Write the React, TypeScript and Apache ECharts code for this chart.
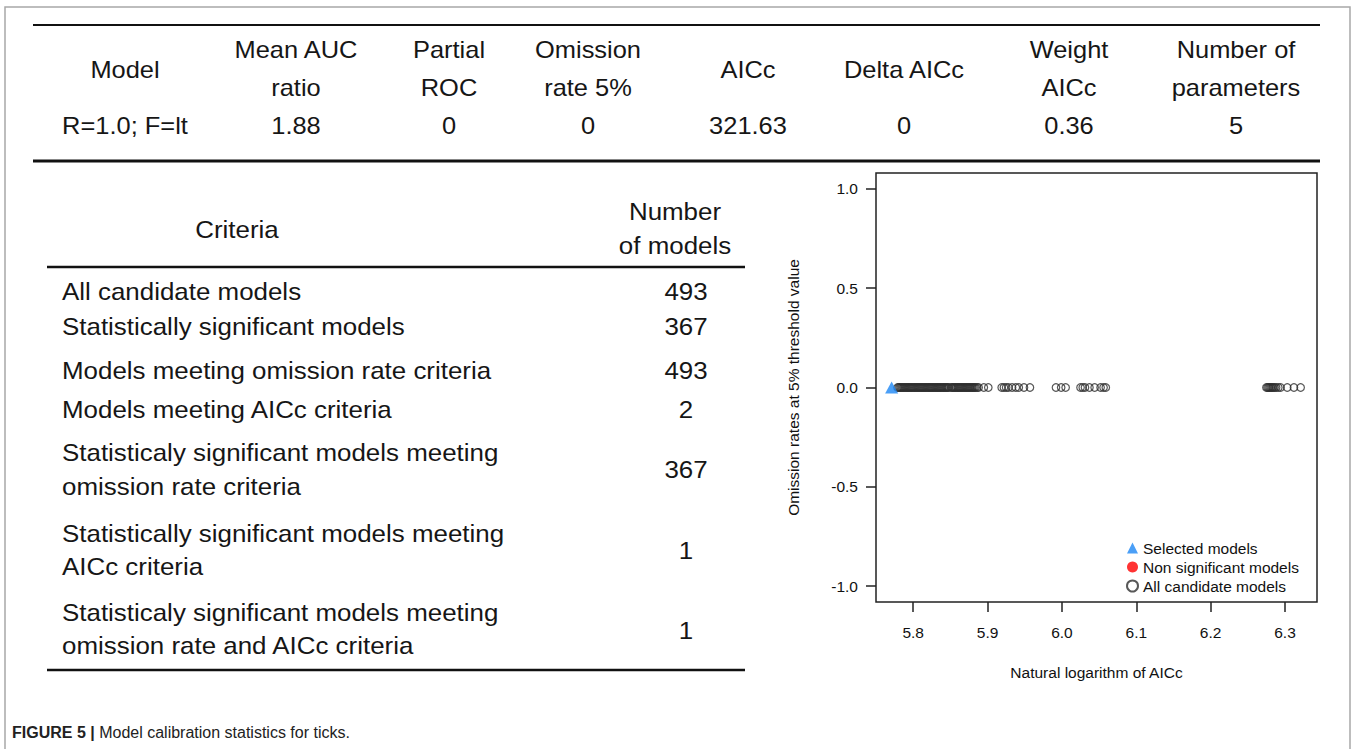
import React, { useEffect, useRef } from "react";
import * as echarts from "echarts";

// ---------- data ----------
const summaryHeaders: string[][] = [
  ["Model"],
  ["Mean AUC", "ratio"],
  ["Partial", "ROC"],
  ["Omission", "rate 5%"],
  ["AICc"],
  ["Delta AICc"],
  ["Weight", "AICc"],
  ["Number of", "parameters"],
];
const summaryValues: string[] = ["R=1.0; F=lt", "1.88", "0", "0", "321.63", "0", "0.36", "5"];

const criteriaHeader: string[] = ["Criteria"];
const countHeader: string[] = ["Number", "of models"];
const criteriaLabels: string[][] = [
  ["All candidate models"],
  ["Statistically significant models"],
  ["Models meeting omission rate criteria"],
  ["Models meeting AICc criteria"],
  ["Statisticaly significant models meeting", "omission rate criteria"],
  ["Statistically significant models meeting", "AICc criteria"],
  ["Statisticaly significant models meeting", "omission rate and AICc criteria"],
];
const criteriaCounts: number[] = [493, 367, 493, 2, 367, 1, 1];

const xTicks: number[] = [5.8, 5.9, 6.0, 6.1, 6.2, 6.3];
const yTicks: number[] = [-1.0, -0.5, 0.0, 0.5, 1.0];

// [natural log of AICc, omission rate at 5%]
const selectedModels: number[][] = [[5.771, 0]];
const nonSignificantModels: number[][] = [];
const candidateModels: number[][] = [
  [5.779, 0], [5.7805, 0], [5.782, 0], [5.7835, 0], [5.785, 0], [5.7865, 0], [5.788, 0], [5.7895, 0],
  [5.791, 0], [5.7925, 0], [5.794, 0], [5.7955, 0], [5.797, 0], [5.7985, 0], [5.800, 0], [5.8015, 0],
  [5.803, 0], [5.8045, 0], [5.806, 0], [5.8075, 0], [5.809, 0], [5.8105, 0], [5.812, 0], [5.8135, 0],
  [5.815, 0], [5.8165, 0], [5.818, 0], [5.8195, 0], [5.821, 0], [5.8225, 0], [5.824, 0], [5.8255, 0],
  [5.827, 0], [5.8285, 0], [5.830, 0], [5.8315, 0], [5.833, 0], [5.8345, 0], [5.836, 0], [5.8375, 0],
  [5.839, 0], [5.8405, 0], [5.842, 0], [5.8435, 0], [5.845, 0], [5.8465, 0], [5.848, 0],
  [5.851, 0], [5.8525, 0], [5.854, 0], [5.8555, 0], [5.857, 0], [5.8585, 0], [5.860, 0], [5.8615, 0],
  [5.863, 0], [5.8645, 0], [5.866, 0], [5.8675, 0], [5.869, 0], [5.8705, 0], [5.872, 0], [5.8735, 0],
  [5.875, 0], [5.8765, 0], [5.878, 0], [5.8795, 0], [5.881, 0], [5.8825, 0], [5.884, 0], [5.886, 0],
  [5.888, 0], [5.895, 0], [5.901, 0],
  [5.919, 0], [5.922, 0], [5.925, 0], [5.928, 0], [5.933, 0], [5.938, 0], [5.942, 0], [5.949, 0], [5.957, 0],
  [5.992, 0], [5.999, 0], [6.005, 0],
  [6.025, 0], [6.028, 0], [6.031, 0], [6.037, 0], [6.044, 0], [6.052, 0], [6.056, 0], [6.059, 0],
  [6.275, 0], [6.2765, 0], [6.278, 0], [6.2795, 0], [6.281, 0], [6.2825, 0], [6.284, 0], [6.286, 0],
  [6.288, 0], [6.291, 0], [6.294, 0], [6.303, 0], [6.312, 0], [6.321, 0],
];

// ---------- layout ----------
const FONT = '"Liberation Sans", Arial, Helvetica, sans-serif';
const INK = "#161616";
const summaryColX = [125, 296, 449, 588, 748, 904, 1069, 1236];
const tableFont = 24;

function textEl(text: string, x: number, y: number, align: string, size = tableFont, sx = 1) {
  return {
    type: "text",
    silent: true,
    x,
    y,
    scaleX: sx,
    style: {
      text,
      x: 0,
      y: 0,
      fill: INK,
      fontSize: size,
      fontFamily: FONT,
      textAlign: align,
      textVerticalAlign: "middle",
    },
  };
}

function lineEl(x1: number, y1: number, x2: number, y2: number, w: number, color = "#111") {
  return {
    type: "line",
    silent: true,
    shape: { x1, y1, x2, y2 },
    style: { stroke: color, lineWidth: w },
  };
}

function buildGraphics() {
  const g: any[] = [];
  // outer frame
  g.push({
    type: "rect",
    silent: true,
    shape: { x: 5, y: 7, width: 1345, height: 770 },
    style: { fill: "none", stroke: "#a8a8a8", lineWidth: 1.5 },
  });
  // summary table
  const topSX = 1.06;
  g.push(lineEl(33, 25, 1320, 25, 2));
  g.push(lineEl(33, 161, 1320, 161, 3));
  summaryHeaders.forEach((lines, i) => {
    if (lines.length === 1) {
      g.push(textEl(lines[0], summaryColX[i], 70, "center", tableFont, topSX));
    } else {
      g.push(textEl(lines[0], summaryColX[i], 50, "center", tableFont, topSX));
      g.push(textEl(lines[1], summaryColX[i], 88, "center", tableFont, topSX));
    }
  });
  summaryValues.forEach((v, i) => g.push(textEl(v, summaryColX[i], 126, "center", tableFont, topSX)));

  // criteria table
  const critSX = 1.08;
  g.push(textEl(criteriaHeader[0], 237, 229, "center", tableFont, critSX));
  g.push(textEl(countHeader[0], 675, 211, "center", tableFont, critSX));
  g.push(textEl(countHeader[1], 675, 245, "center", tableFont, critSX));
  g.push(lineEl(47, 267, 745, 267, 2.5));
  g.push(lineEl(47, 670, 745, 670, 2.5));
  const rowLineY: number[][] = [[291], [326], [370], [409], [452, 486], [533, 566], [612, 645]];
  const rowValueY: number[] = [291, 326, 370, 409, 469, 550, 630];
  criteriaLabels.forEach((lines, i) => {
    lines.forEach((l, j) => g.push(textEl(l, 62, rowLineY[i][j], "left", tableFont, critSX)));
    g.push(textEl(String(criteriaCounts[i]), 686, rowValueY[i], "center", tableFont, critSX));
  });

  // caption
  g.push({
    type: "text",
    silent: true,
    style: {
      text: "{b|FIGURE 5 |} Model calibration statistics for ticks.",
      x: 12,
      y: 732,
      fill: "#222",
      fontSize: 16,
      fontFamily: FONT,
      textAlign: "left",
      textVerticalAlign: "middle",
      rich: { b: { fontWeight: "bold", fontSize: 16, fontFamily: FONT, fill: "#222" } },
    },
  });
  return g;
}

export default function App() {
  const ref = useRef<HTMLDivElement>(null);
  useEffect(() => {
    if (!ref.current) return;
    const chart = echarts.init(ref.current, undefined, { renderer: "svg" });
    const axisText = { color: "#111111", fontSize: 15.5, fontFamily: FONT };
    chart.setOption({
      animation: false,
      backgroundColor: "#ffffff",
      graphic: buildGraphics(),
      grid: {
        left: 876,
        top: 173,
        width: 441,
        height: 429,
        show: true,
        borderColor: "#222",
        borderWidth: 1.5,
        backgroundColor: "transparent",
        containLabel: false,
      },
      xAxis: {
        type: "value",
        min: 5.75,
        max: 6.343,
        splitLine: { show: false },
        axisLine: { show: false, onZero: false },
        axisTick: {
          show: true,
          inside: false,
          length: 10,
          customValues: xTicks,
          lineStyle: { color: "#222", width: 1.5 },
        },
        axisLabel: {
          customValues: xTicks,
          formatter: (v: number) => v.toFixed(1),
          margin: 22,
          ...axisText,
        },
        name: "Natural logarithm of AICc",
        nameLocation: "middle",
        nameGap: 62,
        nameTextStyle: axisText,
      },
      yAxis: {
        type: "value",
        min: -1.08,
        max: 1.08,
        splitLine: { show: false },
        axisLine: { show: false, onZero: false },
        axisTick: {
          show: true,
          inside: false,
          length: 10,
          customValues: yTicks,
          lineStyle: { color: "#222", width: 1.5 },
        },
        axisLabel: {
          customValues: yTicks,
          formatter: (v: number) => v.toFixed(1),
          margin: 18,
          ...axisText,
        },
        name: "Omission rates at 5% threshold value",
        nameLocation: "middle",
        nameGap: 75,
        nameTextStyle: axisText,
      },
      legend: {
        data: [
          { name: "Selected models", icon: "triangle" },
          { name: "Non significant models", icon: "circle" },
          { name: "All candidate models", icon: "circle" },
        ],
        orient: "vertical",
        left: 1121,
        top: 535,
        itemWidth: 11,
        itemHeight: 11,
        itemGap: 3,
        selectedMode: false,
        textStyle: axisText,
      },
      series: [
        {
          name: "All candidate models",
          type: "scatter",
          data: candidateModels,
          symbol: "circle",
          symbolSize: 7.5,
          itemStyle: { color: "rgba(255,255,255,0)", borderColor: "#2e2e2e", borderWidth: 1.2 },
          z: 2,
        },
        {
          name: "Non significant models",
          type: "scatter",
          data: nonSignificantModels,
          symbol: "circle",
          symbolSize: 8,
          itemStyle: { color: "#ff0000" },
          z: 3,
        },
        {
          name: "Selected models",
          type: "scatter",
          data: selectedModels,
          symbol: "triangle",
          symbolSize: [13, 12],
          itemStyle: { color: "#1d87f5" },
          z: 4,
        },
      ],
    });
    return () => chart.dispose();
  }, []);
  return (
    <div
      ref={ref}
      style={{ position: "fixed", left: 0, top: 0, width: 1357, height: 749, background: "#fff" }}
    />
  );
}
